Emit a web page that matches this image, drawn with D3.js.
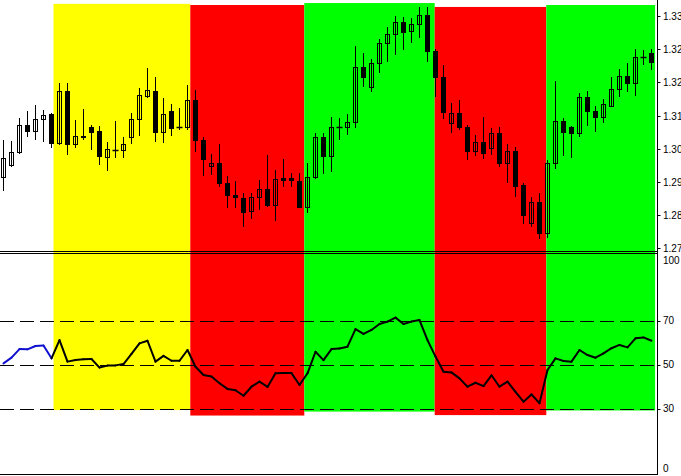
<!DOCTYPE html>
<html>
<head>
<meta charset="utf-8">
<script src="https://cdn.jsdelivr.net/npm/d3@7"></script>
<style>
html,body{margin:0;padding:0;background:#fff;}
svg{display:block;}
text{font-family:"Liberation Sans",Arial,sans-serif;font-size:10px;fill:#000;}
</style>
</head>
<body>
<svg id="chart" width="681" height="476"></svg>
<script>
// ---- data ----
const candleOpen = [1.2962,1.2993,1.3027,1.3096,1.3081,1.3111,1.3124,1.3050,1.3183,1.3047,
  1.3068,1.3091,1.3081,1.3014,1.3032,1.3032,1.3065,1.3111,1.3170,1.3183,
  1.3078,1.3132,1.3090,1.3091,1.3160,1.3057,1.2991,1.2998,1.2947,1.2916,
  1.2908,1.2875,1.2911,1.2932,1.2891,1.2960,1.2960,1.2952,1.2885,1.2962,
  1.3065,1.3016,1.3091,1.3091,1.3104,1.3245,1.3193,1.3255,1.3306,1.3330,
  1.3360,1.3337,1.3355,1.3378,1.3286,1.3219,1.3101,1.3127,1.3091,1.3029,
  1.3052,1.3037,1.3075,1.2998,1.3029,1.2942,1.2844,1.2898,1.2819,1.2998,
  1.3106,1.3091,1.3075,1.3168,1.3132,1.3116,1.3145,1.3188,1.3222,1.3204,
  1.3271,1.3281];
const candleHigh = [1.3057,1.3055,1.3114,1.3132,1.3147,1.3134,1.3127,1.3204,1.3204,1.3109,
  1.3137,1.3096,1.3093,1.3052,1.3106,1.3065,1.3127,1.3191,1.3242,1.3219,
  1.3165,1.3150,1.3140,1.3199,1.3186,1.3065,1.3021,1.3047,1.2965,1.2952,
  1.2921,1.2921,1.2955,1.3019,1.2980,1.3009,1.2973,1.2973,1.2998,1.3075,
  1.3075,1.3116,1.3114,1.3124,1.3299,1.3281,1.3265,1.3317,1.3348,1.3376,
  1.3373,1.3371,1.3399,1.3399,1.3291,1.3250,1.3152,1.3160,1.3096,1.3070,
  1.3116,1.3088,1.3091,1.3047,1.3039,1.2947,1.2911,1.2921,1.3006,1.3209,
  1.3114,1.3093,1.3178,1.3183,1.3145,1.3163,1.3219,1.3240,1.3255,1.3291,
  1.3289,1.3291];
const candleLow = [1.2926,1.2988,1.3021,1.3065,1.3057,1.3052,1.3037,1.3045,1.3019,1.3037,
  1.3057,1.3032,1.2993,1.2978,1.3011,1.3011,1.3047,1.3068,1.3165,1.3052,
  1.3050,1.3068,1.3083,1.3083,1.3027,1.2965,1.2967,1.2937,1.2883,1.2883,
  1.2834,1.2855,1.2878,1.2885,1.2849,1.2937,1.2937,1.2883,1.2870,1.2957,
  1.2970,1.2975,1.3057,1.3070,1.3088,1.3193,1.3181,1.3229,1.3258,1.3276,
  1.3289,1.3306,1.3319,1.3258,1.3168,1.3111,1.3075,1.3083,1.3006,1.3016,
  1.3009,1.3019,1.2988,1.2947,1.2911,1.2842,1.2834,1.2803,1.2806,1.2983,
  1.3016,1.3011,1.3065,1.3093,1.3078,1.3101,1.3142,1.3168,1.3181,1.3170,
  1.3250,1.3237];
const candleClose = [1.3011,1.3027,1.3096,1.3081,1.3111,1.3122,1.3050,1.3183,1.3047,1.3068,
  1.3066,1.3078,1.3016,1.3034,1.3031,1.3047,1.3111,1.3173,1.3186,1.3078,
  1.3124,1.3088,1.3091,1.3160,1.3057,1.3009,1.2998,1.2947,1.2916,1.2911,
  1.2873,1.2911,1.2932,1.2891,1.2957,1.2955,1.2955,1.2885,1.2962,1.3065,
  1.3016,1.3091,1.3092,1.3104,1.3245,1.3219,1.3255,1.3306,1.3330,1.3360,
  1.3335,1.3355,1.3378,1.3286,1.3219,1.3129,1.3127,1.3091,1.3029,1.3052,
  1.3024,1.3075,1.2998,1.3029,1.2939,1.2865,1.2898,1.2819,1.2998,1.3106,
  1.3078,1.3075,1.3168,1.3132,1.3116,1.3150,1.3188,1.3222,1.3204,1.3271,
  1.3271,1.3258];
const rsiValues = [50.5,53.1,57.0,56.9,58.4,58.6,52.8,61.1,51.3,52.0,
  52.4,52.5,48.6,49.5,49.6,50.2,54.8,59.6,60.8,51.3,
  53.9,51.7,51.7,56.6,49.0,45.2,44.5,41.5,38.9,38.3,
  35.8,39.9,42.2,39.8,46.0,46.1,46.1,40.7,46.0,55.8,
  52.0,57.0,57.3,58.1,66.1,63.9,65.7,68.4,69.5,71.3,
  68.4,69.5,70.2,61.1,53.6,46.7,46.4,43.7,39.9,41.7,
  40.2,45.1,39.9,42.2,37.6,33.1,36.4,32.4,47.5,52.8,
  51.6,51.3,56.6,54.3,53.1,55.1,57.4,58.9,57.8,61.9,
  62.3,60.8];
// trend regions (in bar-index units / price / RSI units)
const regionStart = [6.25, 23.35, 37.6, 53.9, 67.85];
const regionEnd = [23.35, 37.6, 53.9, 67.85, 81.45];
const regionTrend = ["flat", "down", "up", "down", "up"];
const regionTopPrice = [1.3407, 1.3404, 1.3409, 1.3399, 1.3404];
const regionBottomRsi = [29.3, 26.8, 28.6, 27.0, 29.1];
// axes
const priceTicks = [1.2780, 1.2865, 1.2950, 1.3035, 1.3120, 1.3205, 1.3290, 1.3375];
const rsiLevels = [70, 50, 30];
const rsiLabels = [100, 70, 50, 30, 0];

// ---- drawing ----
const svg = d3.select("#chart");
const trendColor = {flat: "#ffff00", down: "#ff0000", up: "#00ff00"};
const n = candleOpen.length;
const x = d3.scaleLinear().domain([0, n - 1]).range([3.5, 651.5]);
const yP = d3.scaleLinear().domain([1.278, 1.3375]).range([248, 16.3]);
const yR = d3.scaleLinear().domain([0, 100]).range([474.5, 254.5]);
const axisX = 657.5;

// regions
regionStart.forEach((s, i) => {
  const x0 = x(s), x1 = x(regionEnd[i]);
  const y0 = yP(regionTopPrice[i]), y1 = yR(regionBottomRsi[i]);
  svg.append("rect").attr("x", x0).attr("y", y0)
    .attr("width", x1 - x0).attr("height", y1 - y0)
    .attr("fill", trendColor[regionTrend[i]]);
});

// panel separator (double line) and bottom border
[251.5, 253.5].forEach(yy => svg.append("line")
  .attr("x1", 0).attr("x2", axisX).attr("y1", yy).attr("y2", yy)
  .attr("stroke", "#000").attr("stroke-width", 1));
svg.append("line").attr("x1", 0).attr("x2", axisX).attr("y1", 474.5).attr("y2", 474.5)
  .attr("stroke", "#000").attr("stroke-width", 1);

// RSI level lines
rsiLevels.forEach(v => svg.append("line")
  .attr("x1", 0).attr("x2", x(regionEnd[regionEnd.length - 1]))
  .attr("y1", Math.round(yR(v)) + 0.5).attr("y2", Math.round(yR(v)) + 0.5)
  .attr("stroke", "#000").attr("stroke-width", 1)
  .attr("stroke-dasharray", "14,6"));

// candles
const g = svg.append("g");
for (let i = 0; i < n; i++) {
  const o = candleOpen[i], c = candleClose[i], h = candleHigh[i], l = candleLow[i];
  const cx = x(i);
  g.append("line").attr("x1", cx).attr("x2", cx)
    .attr("y1", Math.round(yP(h))).attr("y2", Math.round(yP(l)))
    .attr("stroke", "#000").attr("stroke-width", 1);
  const top = Math.round(yP(Math.max(o, c))), bot = Math.round(yP(Math.min(o, c)));
  if (bot - top < 1) {
    g.append("line").attr("x1", cx - 3).attr("x2", cx + 3)
      .attr("y1", top + 0.5).attr("y2", top + 0.5)
      .attr("stroke", "#000").attr("stroke-width", 1.5);
  } else {
    g.append("rect").attr("x", cx - 2).attr("y", top + 0.5)
      .attr("width", 4).attr("height", bot - top)
      .attr("fill", c < o ? "#000" : "none")
      .attr("stroke", "#000").attr("stroke-width", 1);
  }
}

// RSI line, blue outside trend regions, black inside
const inRegion = k => regionStart.some((s, i) => k >= s && k <= regionEnd[i]);
for (let k = 1; k < n; k++) {
  svg.append("line")
    .attr("x1", x(k - 1)).attr("y1", yR(rsiValues[k - 1]))
    .attr("x2", x(k)).attr("y2", yR(rsiValues[k]))
    .attr("stroke", inRegion(k) ? "#000" : "#1010d0")
    .attr("stroke-width", 2).attr("stroke-linecap", "round");
}

// right axis
svg.append("line").attr("x1", axisX).attr("x2", axisX).attr("y1", 0).attr("y2", 475)
  .attr("stroke", "#000").attr("stroke-width", 1);
priceTicks.forEach(v => {
  const yy = Math.round(yP(v)) + 0.5;
  svg.append("line").attr("x1", axisX).attr("x2", axisX + 3).attr("y1", yy).attr("y2", yy)
    .attr("stroke", "#000");
  svg.append("text").attr("x", 663).attr("y", yy).attr("dy", "0.35em")
    .text(v.toFixed(4).slice(0, 4));
});
rsiLabels.forEach(v => {
  let yy = yR(v);
  if (v === 100) yy += 5.5;
  else if (v === 0) yy -= 6;
  else svg.append("line").attr("x1", axisX).attr("x2", axisX + 3)
    .attr("y1", Math.round(yy) + 0.5).attr("y2", Math.round(yy) + 0.5).attr("stroke", "#000");
  svg.append("text").attr("x", 663).attr("y", yy).attr("dy", "0.35em").text(v);
});
</script>
</body>
</html>
